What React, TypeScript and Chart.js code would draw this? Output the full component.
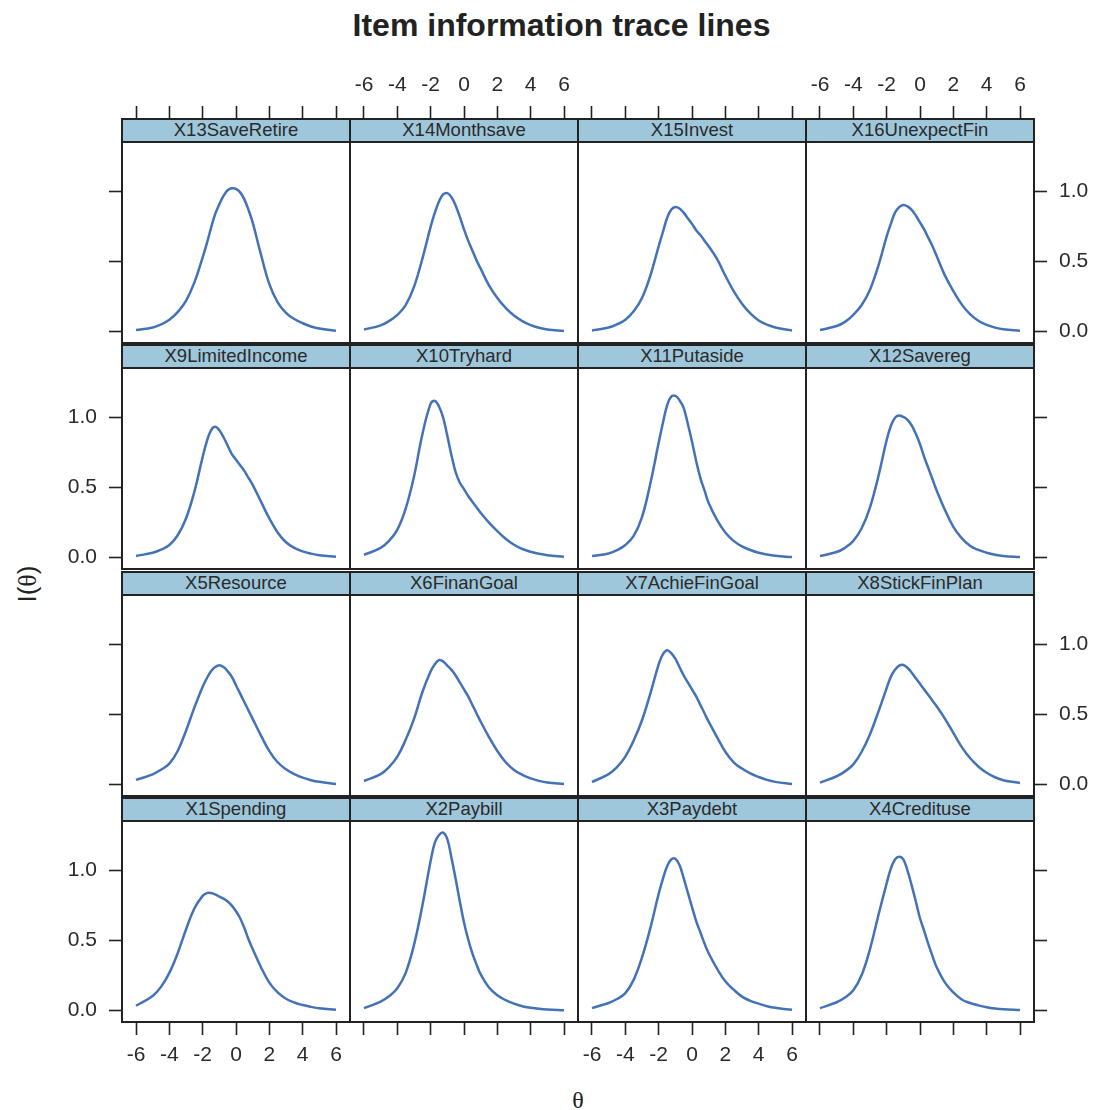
import React, { useEffect, useRef } from "react";
import { Chart, registerables } from "chart.js";

Chart.register(...registerables);

// ---------- data ----------
const THETA = [-6, -5, -4.5, -4, -3.5, -3, -2.5, -2, -1.75, -1.5, -1.25, -1, -0.75, -0.5, -0.25, 0, 0.25, 0.5, 0.75, 1, 1.5, 2, 2.5, 3, 3.5, 4, 4.5, 5, 6];
const X_TICKS = [-6, -4, -2, 0, 2, 4, 6];
const Y_TICKS = [0, 0.5, 1];

const X13SaveRetire = [0.012, 0.03, 0.052, 0.085, 0.14, 0.22, 0.35, 0.53, 0.63, 0.74, 0.84, 0.91, 0.97, 1.01, 1.024, 1.02, 0.995, 0.945, 0.87, 0.78, 0.55, 0.34, 0.21, 0.135, 0.09, 0.06, 0.037, 0.022, 0.006];
const X14Monthsave = [0.015, 0.045, 0.075, 0.12, 0.19, 0.32, 0.52, 0.75, 0.85, 0.93, 0.98, 0.99, 0.96, 0.9, 0.82, 0.73, 0.65, 0.58, 0.51, 0.45, 0.33, 0.24, 0.17, 0.115, 0.075, 0.047, 0.028, 0.016, 0.004];
const X15Invest = [0.008, 0.03, 0.052, 0.085, 0.145, 0.24, 0.4, 0.61, 0.71, 0.81, 0.87, 0.89, 0.88, 0.85, 0.81, 0.77, 0.725, 0.69, 0.65, 0.61, 0.52, 0.4, 0.29, 0.2, 0.13, 0.08, 0.05, 0.03, 0.008];
const X16UnexpectFin = [0.012, 0.04, 0.07, 0.12, 0.19, 0.3, 0.47, 0.68, 0.77, 0.85, 0.89, 0.905, 0.895, 0.87, 0.83, 0.78, 0.73, 0.67, 0.61, 0.54, 0.4, 0.29, 0.195, 0.125, 0.078, 0.048, 0.029, 0.017, 0.006];

const X9LimitedIncome = [0.012, 0.035, 0.057, 0.09, 0.16, 0.28, 0.47, 0.72, 0.83, 0.91, 0.935, 0.91, 0.86, 0.8, 0.74, 0.7, 0.66, 0.62, 0.57, 0.52, 0.4, 0.28, 0.18, 0.11, 0.07, 0.045, 0.029, 0.018, 0.007];
const X10Tryhard = [0.02, 0.07, 0.12, 0.2, 0.35, 0.58, 0.88, 1.1, 1.12, 1.08, 1.0, 0.87, 0.73, 0.61, 0.535, 0.49, 0.44, 0.4, 0.36, 0.32, 0.25, 0.19, 0.135, 0.092, 0.062, 0.042, 0.028, 0.018, 0.006];
const X11Putaside = [0.012, 0.03, 0.053, 0.09, 0.155, 0.29, 0.53, 0.82, 0.96, 1.085, 1.15, 1.155, 1.125, 1.07, 0.955, 0.83, 0.69, 0.57, 0.48, 0.39, 0.27, 0.18, 0.12, 0.08, 0.055, 0.035, 0.022, 0.013, 0.004];
const X12Savereg = [0.012, 0.04, 0.07, 0.12, 0.21, 0.36, 0.58, 0.84, 0.94, 1.0, 1.015, 1.005, 0.985, 0.945, 0.885, 0.81, 0.72, 0.64, 0.56, 0.48, 0.34, 0.22, 0.14, 0.085, 0.055, 0.035, 0.021, 0.012, 0.004];

const X5Resource = [0.034, 0.074, 0.107, 0.15, 0.24, 0.385, 0.55, 0.7, 0.76, 0.81, 0.84, 0.853, 0.84, 0.81, 0.77, 0.71, 0.65, 0.59, 0.53, 0.47, 0.35, 0.24, 0.16, 0.11, 0.075, 0.05, 0.032, 0.02, 0.005];
const X6FinanGoal = [0.026, 0.075, 0.125, 0.2, 0.32, 0.47, 0.66, 0.81, 0.86, 0.89, 0.88, 0.85, 0.82, 0.78, 0.73, 0.68, 0.63, 0.57, 0.51, 0.45, 0.34, 0.24, 0.16, 0.105, 0.07, 0.045, 0.027, 0.015, 0.004];
const X7AchieFinGoal = [0.019, 0.075, 0.125, 0.2, 0.315, 0.46, 0.65, 0.86, 0.93, 0.96, 0.94, 0.9, 0.84, 0.78, 0.73, 0.68, 0.63, 0.57, 0.51, 0.45, 0.34, 0.235, 0.16, 0.115, 0.08, 0.055, 0.034, 0.02, 0.004];
const X8StickFinPlan = [0.015, 0.06, 0.095, 0.145, 0.235, 0.36, 0.52, 0.69, 0.77, 0.82, 0.85, 0.855, 0.835, 0.8, 0.76, 0.72, 0.68, 0.64, 0.6, 0.56, 0.47, 0.37, 0.27, 0.19, 0.13, 0.085, 0.053, 0.032, 0.012];

const X1Spending = [0.035, 0.105, 0.17, 0.27, 0.41, 0.58, 0.73, 0.82, 0.84, 0.84, 0.83, 0.815, 0.8, 0.78, 0.75, 0.71, 0.66, 0.59, 0.51, 0.44, 0.31, 0.2, 0.13, 0.085, 0.058, 0.04, 0.027, 0.017, 0.006];
const X2Paybill = [0.018, 0.065, 0.103, 0.16, 0.27, 0.47, 0.75, 1.07, 1.2, 1.255, 1.272, 1.225, 1.09, 0.94, 0.78, 0.63, 0.51, 0.41, 0.33, 0.26, 0.165, 0.11, 0.075, 0.05, 0.032, 0.021, 0.013, 0.008, 0.003];
const X3Paydebt = [0.018, 0.055, 0.083, 0.125, 0.22, 0.38, 0.59, 0.835, 0.94, 1.03, 1.08, 1.085, 1.04, 0.947, 0.843, 0.74, 0.64, 0.56, 0.48, 0.41, 0.3, 0.21, 0.15, 0.1, 0.07, 0.05, 0.032, 0.02, 0.006];
const X4Credituse = [0.018, 0.06, 0.094, 0.145, 0.255, 0.44, 0.68, 0.91, 1.015, 1.08, 1.1, 1.08, 1.0, 0.895, 0.78, 0.66, 0.57, 0.475, 0.39, 0.31, 0.2, 0.13, 0.08, 0.055, 0.038, 0.025, 0.016, 0.01, 0.004];

const PANEL_NAMES = [
  ["X13SaveRetire", "X14Monthsave", "X15Invest", "X16UnexpectFin"],
  ["X9LimitedIncome", "X10Tryhard", "X11Putaside", "X12Savereg"],
  ["X5Resource", "X6FinanGoal", "X7AchieFinGoal", "X8StickFinPlan"],
  ["X1Spending", "X2Paybill", "X3Paydebt", "X4Credituse"],
];
const PANEL_VALUES = [
  [X13SaveRetire, X14Monthsave, X15Invest, X16UnexpectFin],
  [X9LimitedIncome, X10Tryhard, X11Putaside, X12Savereg],
  [X5Resource, X6FinanGoal, X7AchieFinGoal, X8StickFinPlan],
  [X1Spending, X2Paybill, X3Paydebt, X4Credituse],
];

const TITLE = "Item information trace lines";

// ---------- styling / layout ----------
const SANS = '"Liberation Sans", Arial, Helvetica, sans-serif';
const SERIF = '"Liberation Serif", "Times New Roman", serif';
const LINE_COLOR = "#4472B7";
const STRIP_COLOR = "#9FC7DB";
const FRAME_COLOR = "#222222";
const TEXT_COLOR = "#2a2a2a";

const X_MIN = -6.84;
const X_MAX = 6.84;
const Y_MIN = -0.081;
const Y_MAX = 1.519;

const COL_LEFT = 122;
const COL_W = 228;
const ROW_TOP = [119, 345, 572, 798];
const ROW_H = 224;
const STRIP_H = 23;

function zeroPadding(s: any) {
  s.paddingTop = 0;
  s.paddingBottom = 0;
  s.paddingLeft = 0;
  s.paddingRight = 0;
}

function PanelChart({ row, col, values }: { row: number; col: number; values: number[] }) {
  const ref = useRef<HTMLCanvasElement | null>(null);
  const hasTop = row === 0;
  const hasBottom = row === 3;
  const hasLeft = col === 0;
  const hasRight = col === 3;
  const mL = hasLeft ? 72 : 0;
  const mR = hasRight ? 72 : 0;
  const mT = hasTop ? 60 : 0;
  const mB = hasBottom ? 60 : 0;
  const w = COL_W + mL + mR;
  const h = ROW_H + mT + mB;
  const left = COL_LEFT + col * COL_W - mL;
  const top = ROW_TOP[row] - mT;

  useEffect(() => {
    if (!ref.current) return;
    const font = { family: SANS, size: 21 };
    const grid = {
      drawOnChartArea: false,
      drawTicks: true,
      tickLength: 13,
      tickColor: FRAME_COLOR,
      tickWidth: 1.6,
    };
    const xAxis = (pos: string, display: boolean, labels: boolean, size: number) => ({
      type: "linear",
      position: pos,
      display,
      min: X_MIN,
      max: X_MAX,
      afterBuildTicks: (s: any) => {
        s.ticks = X_TICKS.map((v) => ({ value: v }));
      },
      afterFit: (s: any) => {
        s.height = size;
        zeroPadding(s);
      },
      ticks: {
        display: labels,
        font,
        color: TEXT_COLOR,
        padding: 8,
        maxRotation: 0,
        autoSkip: false,
        callback: (v: any) => String(v),
      },
      grid,
      border: { display: false },
    });
    const yAxis = (pos: string, display: boolean, labels: boolean, size: number) => ({
      type: "linear",
      position: pos,
      display,
      min: Y_MIN,
      max: Y_MAX,
      afterBuildTicks: (s: any) => {
        s.ticks = Y_TICKS.map((v) => ({ value: v }));
      },
      afterFit: (s: any) => {
        s.width = size;
        zeroPadding(s);
      },
      ticks: {
        display: labels,
        font,
        color: TEXT_COLOR,
        padding: 12,
        autoSkip: false,
        callback: (v: any) => Number(v).toFixed(1),
      },
      grid,
      border: { display: false },
    });

    const chart = new Chart(ref.current, {
      type: "line",
      data: {
        datasets: [
          {
            data: THETA.map((t, i) => ({ x: t, y: values[i] })),
            borderColor: LINE_COLOR,
            borderWidth: 2.5,
            pointRadius: 0,
            fill: false,
            tension: 0.4,
            cubicInterpolationMode: "default",
            xAxisID: "x",
            yAxisID: "y",
          },
        ],
      },
      options: {
        responsive: false,
        animation: false,
        devicePixelRatio: 1,
        events: [],
        layout: { padding: 0 },
        plugins: {
          legend: { display: false },
          tooltip: { enabled: false },
          title: { display: false },
        },
        scales: {
          x: xAxis("bottom", hasBottom, col % 2 === 0, mB),
          x2: xAxis("top", hasTop, col % 2 === 1, mT),
          y: yAxis("left", hasLeft, row % 2 === 1, mL),
          y2: yAxis("right", hasRight, row % 2 === 0, mR),
        } as any,
      },
    } as any);
    return () => chart.destroy();
  }, []);

  return (
    <canvas
      ref={ref}
      width={w}
      height={h}
      style={{ position: "absolute", left, top, width: w, height: h }}
    />
  );
}

export default function App() {
  const panels: React.ReactNode[] = [];
  const overlays: React.ReactNode[] = [];
  for (let r = 0; r < 4; r++) {
    for (let c = 0; c < 4; c++) {
      panels.push(<PanelChart key={`p${r}${c}`} row={r} col={c} values={PANEL_VALUES[r][c]} />);
      const L = COL_LEFT + c * COL_W;
      const T = ROW_TOP[r];
      overlays.push(
        <div
          key={`s${r}${c}`}
          style={{
            position: "absolute",
            left: L - 1,
            top: T - 1,
            width: COL_W + 2,
            height: STRIP_H + 2,
            boxSizing: "border-box",
            border: `2px solid ${FRAME_COLOR}`,
            background: STRIP_COLOR,
            display: "flex",
            alignItems: "center",
            justifyContent: "center",
            fontFamily: SANS,
            fontSize: 18.5,
            lineHeight: 1,
            color: TEXT_COLOR,
            whiteSpace: "nowrap",
          }}
        >
          {PANEL_NAMES[r][c]}
        </div>
      );
      overlays.push(
        <div
          key={`f${r}${c}`}
          style={{
            position: "absolute",
            left: L - 1,
            top: T + STRIP_H - 1,
            width: COL_W + 2,
            height: ROW_H - STRIP_H + 2,
            boxSizing: "border-box",
            border: `2px solid ${FRAME_COLOR}`,
            pointerEvents: "none",
          }}
        />
      );
    }
  }

  return (
    <div
      style={{
        position: "absolute",
        left: 0,
        top: 0,
        width: 1095,
        height: 1110,
        background: "#ffffff",
        overflow: "hidden",
      }}
    >
      <div
        style={{
          position: "absolute",
          left: 561.5,
          top: 25,
          transform: "translate(-50%, -50%)",
          fontFamily: SANS,
          fontWeight: "bold",
          fontSize: 32,
          lineHeight: 1,
          color: "#222",
          whiteSpace: "nowrap",
        }}
      >
        {TITLE}
      </div>
      {panels}
      {overlays}
      <div
        style={{
          position: "absolute",
          left: 27,
          top: 584,
          transform: "translate(-50%, -50%) rotate(-90deg)",
          fontFamily: SANS,
          fontSize: 26,
          lineHeight: 1,
          color: "#222",
          whiteSpace: "nowrap",
        }}
      >
        I(<span style={{ fontFamily: SERIF }}>θ</span>)
      </div>
      <div
        style={{
          position: "absolute",
          left: 578,
          top: 1100,
          transform: "translate(-50%, -50%)",
          fontFamily: SERIF,
          fontSize: 24,
          lineHeight: 1,
          color: "#222",
          whiteSpace: "nowrap",
        }}
      >
        θ
      </div>
    </div>
  );
}
